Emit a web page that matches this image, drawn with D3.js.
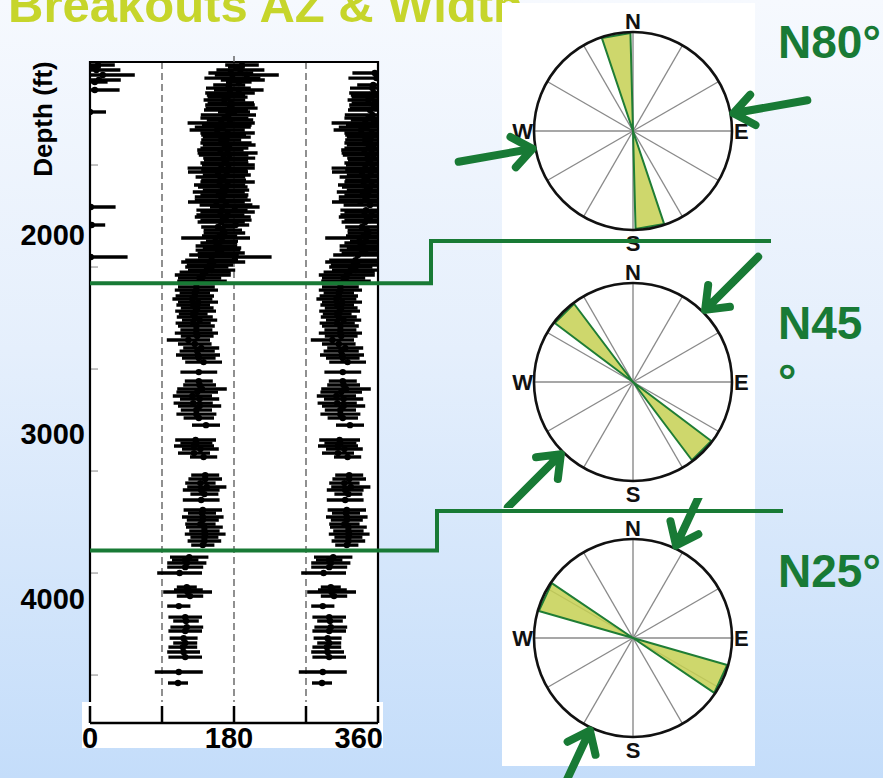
<!DOCTYPE html>
<html>
<head>
<meta charset="utf-8">
<script src="https://cdn.jsdelivr.net/npm/d3@7"></script>
<style>
  html, body { margin: 0; padding: 0; }
  svg { display: block; font-family: "Liberation Sans", Arial, sans-serif; }
</style>
</head>
<body>
<svg id="chart" width="883" height="778"></svg>
<script>
// ---- Breakout picks: depth (ft), azimuth (deg), angular width (deg) ----
// Upper interval (SHmax ~N80°E)
const upperDepth = [1010,1020,1034,1049,1059,1074,1083,1093,1108,1123,1132,1147,1157,1167,1181,1196,1206,1221,1230,1240,
  1255,1270,1279,1294,1304,1314,1328,1343,1353,1363,1377,1392,1402,1417,1426,1441,1451,1466,1475,1490,
  1500,1515,1525,1534,1549,1559,1574,1583,1598,1608,1623,1632,1647,1657,1672,1681,1696,1706,1721,1730,
  1745,1755,1770,1779,1794,1804,1819,1833,1848,1858,1873,1882,1897,1907,1917,1931,1941,1951,1966,1975,
  1990,2000,2015,2025,2039,2054,2069];
const upperAz = [190,183,188,176,196,178,191,186,174,173,186,175,170,172,168,176,175,177,170,180,
  173,168,175,164,171,166,159,172,167,171,164,170,174,168,163,172,167,174,170,168,
  173,164,168,160,171,163,167,172,162,166,170,161,168,164,166,158,170,181,165,172,
  163,166,170,164,182,160,166,168,162,157,165,161,158,165,160,164,155,181,152,154,
  150,146,152,144,141,137,140];
const upperWidth = [42,21,60,56,80,70,55,32,40,56,62,62,48,50,52,58,62,65,55,40,
  69,60,58,84,62,70,69,68,56,60,50,64,66,60,58,75,62,65,55,60,
  66,84,58,75,60,62,56,68,64,62,58,65,60,66,70,71,66,62,64,68,
  60,70,64,59,34,42,48,52,44,86,40,46,52,48,56,59,62,92,66,80,
  58,54,59,64,70,54,62];

// Middle interval (SHmax ~N45°E)
const middleDepth = [2098,2113,2127,2142,2157,2172,2186,2201,2216,2230,2245,2260,2275,2289,2309,2324,2338,2358,2377,2397,
  2412,2431,2446,2466,2515,2559,2578,2598,2613,2632,2647,2667,2681,2701,2721,2740,2775,2848,2863,2877,
  2892,2912,2931,3020,3039,3059,3078,3093,3113,3142,3191,3206,3225,3240,3260,3275,3294,3309,3324,3343,3363];
const middleAz = [133,133,131,131,128,135,129,134,132,129,131,137,129,133,133,133,134,123,131,139,
  134,135,136,142,136,136,137,140,134,128,137,129,137,133,133,136,145,132,133,130,
  138,130,142,144,144,138,146,139,143,139,141,140,141,141,138,143,143,144,143,143,141];
const middleWidth = [46,54,38,48,50,50,42,41,51,36,45,44,44,46,40,54,41,54,42,45,
  44,55,42,46,46,35,41,62,52,49,49,49,54,39,50,38,35,51,40,50,
  46,40,34,35,42,38,49,46,35,46,48,35,52,40,38,46,38,51,35,42,29];

// Lower interval (SHmax ~N25°E)
const lowerDepth = [3422,3436,3451,3471,3500,3569,3583,3593,3613,3662,3716,3735,3765,3784,3819,3843,3863,3887,3912,3985,4039];
const lowerAz = [124,119,121,119,112,121,123,122,125,111,119,120,121,119,117,119,116,117,119,111,110];
const lowerWidth = [48,33,49,45,56,25,36,61,33,29,42,32,41,42,35,30,36,41,42,60,25];

// Depths where the stress regime changes (ft)
const regimeBoundaries = [2080, 3390];

// Axes
const depthTicks = [1500, 2000, 2500, 3000, 3500, 4000];
const depthLabels = [2000, 3000, 4000];
const azTicks = [0, 90, 180, 270, 360];
const azLabels = [0, 180, 360];
const azGrid = [90, 180, 270];

// Stress panels: SHmax azimuth (deg), breakout spread drawn on rose (deg), label lines
const shmaxAz = [80, 45, 25];
const breakoutSpread = [17, 16, 18];
const shmaxLabelLines = [["N80°"], ["N45", "°"], ["N25°"]];
const compassLetters = ["N", "E", "S", "W"];

// ---------------------------------------------------------------
const W = 883, H = 778;
const GREEN = "#187a35";
const svg = d3.select("#chart");
const defs = svg.append("defs");

const bg = defs.append("linearGradient").attr("id", "bg")
  .attr("x1", 0).attr("y1", 0).attr("x2", 0).attr("y2", 1);
[[0, "#f6f9fe"], [0.45, "#e5effc"], [1, "#c4ddfa"]]
  .forEach(([o, c]) => bg.append("stop").attr("offset", o).attr("stop-color", c));
svg.append("rect").attr("width", W).attr("height", H).attr("fill", "url(#bg)");

// Title (runs off the top of the slide)
svg.append("text").attr("x", 8).attr("y", 22)
  .attr("font-size", 49).attr("font-weight", "bold").attr("fill", "#c6d52b")
  .text("Breakouts AZ & Width");

// White backing for the stress-rose column
svg.append("rect").attr("x", 502).attr("y", 3).attr("width", 253).attr("height", 763).attr("fill", "#fff");

// ---- Breakout log ----
const x = d3.scaleLinear().domain([0, 360]).range([90, 378]);
const y = d3.scaleLinear().domain([995, 4235]).range([62, 723]);
const plotTop = 62, plotBottom = 702;

defs.append("clipPath").attr("id", "plotClip").append("rect")
  .attr("x", x(0)).attr("y", plotTop).attr("width", x(360) - x(0)).attr("height", plotBottom - plotTop);

const log = svg.append("g");
log.append("rect").attr("x", x(0)).attr("y", plotTop)
  .attr("width", x(360) - x(0)).attr("height", y(4235) - plotTop).attr("fill", "#fff");

// dashed reference azimuths
log.selectAll("line.grid").data(azGrid).join("line").attr("class", "grid")
  .attr("x1", d => x(d)).attr("x2", d => x(d))
  .attr("y1", plotTop).attr("y2", plotBottom)
  .attr("stroke", "#555").attr("stroke-width", 1.3).attr("stroke-dasharray", "7,4");

// depth ticks (inward)
log.selectAll("line.dtick").data(depthTicks).join("line").attr("class", "dtick")
  .attr("x1", x(0)).attr("x2", x(0) + 8)
  .attr("y1", d => y(d)).attr("y2", d => y(d))
  .attr("stroke", "#999").attr("stroke-width", 1.2);

// breakout marks: each pick appears at its azimuth and the opposite side of the hole
const picks = [];
[[upperDepth, upperAz, upperWidth], [middleDepth, middleAz, middleWidth], [lowerDepth, lowerAz, lowerWidth]]
  .forEach(([ds, as, ws]) => ds.forEach((d, i) => picks.push({ depth: d, az: as[i], width: ws[i] })));
const marks = picks.flatMap(p => [p.az, (p.az + 180) % 360].map(c => ({ depth: p.depth, c, w: p.width })));

const marksG = log.append("g").attr("clip-path", "url(#plotClip)");
marksG.selectAll("line").data(marks).join("line")
  .attr("x1", d => x(d.c - d.w / 2)).attr("x2", d => x(d.c + d.w / 2))
  .attr("y1", d => y(d.depth)).attr("y2", d => y(d.depth))
  .attr("stroke", "#000").attr("stroke-width", 3.4);
marksG.selectAll("circle").data(marks).join("circle")
  .attr("cx", d => x(d.c)).attr("cy", d => y(d.depth)).attr("r", 3.2).attr("fill", "#000");

// frame
log.append("path")
  .attr("d", `M${x(0)},${plotBottom}V${plotTop}H${x(360)}V${plotBottom}`)
  .attr("fill", "none").attr("stroke", "#000").attr("stroke-width", 2.2);
// top tick
log.append("line").attr("x1", x(180)).attr("x2", x(180)).attr("y1", plotTop - 6).attr("y2", plotTop)
  .attr("stroke", "#666").attr("stroke-width", 1.5);

// azimuth axis panel
const axisY = y(4235);
svg.append("rect").attr("x", 82).attr("y", plotBottom).attr("width", 301).attr("height", 46).attr("fill", "#fff");
svg.append("line").attr("x1", x(0)).attr("x2", x(360)).attr("y1", axisY).attr("y2", axisY)
  .attr("stroke", "#000").attr("stroke-width", 2.5);
svg.selectAll("line.atick").data(azTicks).join("line").attr("class", "atick")
  .attr("x1", d => x(d)).attr("x2", d => x(d)).attr("y1", axisY - 17).attr("y2", axisY)
  .attr("stroke", "#000").attr("stroke-width", 2.5);
const anchorFor = (d, i, n) => i === 0 ? "start" : (i === n - 1 ? "end" : "middle");
const dxFor = (d, i, n) => i === 0 ? -8 : (i === n - 1 ? 5 : -5);
svg.selectAll("text.alabel").data(azLabels).join("text").attr("class", "alabel")
  .attr("x", (d, i) => x(d) + dxFor(d, i, azLabels.length)).attr("y", 748)
  .attr("text-anchor", (d, i) => anchorFor(d, i, azLabels.length))
  .attr("font-size", 29).attr("font-weight", "bold").attr("fill", "#000")
  .text(d => d);

// depth labels (placed on the slide's own label rail)
const depthLabelY = d3.scaleLinear().domain([2000, 3000, 4000]).range([245, 444, 609]);
svg.selectAll("text.dlabel").data(depthLabels).join("text").attr("class", "dlabel")
  .attr("x", 85).attr("y", d => depthLabelY(d)).attr("text-anchor", "end")
  .attr("font-size", 29).attr("font-weight", "bold").attr("fill", "#000")
  .text(d => d);

svg.append("text").attr("transform", "translate(52,119) rotate(-90)")
  .attr("text-anchor", "middle").attr("font-size", 26).attr("font-weight", "bold").attr("fill", "#000")
  .text("Depth (ft)");

// ---- Stress roses ----
const rose = { cx: 633, r: 99, cy: [131, 382, 638] };
const bands = [[0, 250], [250, 508], [498, 778]];
const rad = a => a * Math.PI / 180;
const polar = (cx, cy, a, d) => [cx + d * Math.sin(rad(a)), cy - d * Math.cos(rad(a))];

shmaxAz.forEach((sh, i) => {
  const cx = rose.cx, cy = rose.cy[i], r = rose.r;
  const g = svg.append("g");
  g.append("circle").attr("cx", cx).attr("cy", cy).attr("r", r).attr("fill", "#fff");

  const spokes = d3.range(0, 180, 30);
  g.selectAll("line.spoke").data(spokes).join("line").attr("class", "spoke")
    .attr("x1", a => polar(cx, cy, a, r)[0]).attr("y1", a => polar(cx, cy, a, r)[1])
    .attr("x2", a => polar(cx, cy, a + 180, r)[0]).attr("y2", a => polar(cx, cy, a + 180, r)[1])
    .attr("stroke", "#8a8a8a").attr("stroke-width", 1.4);

  // breakout direction is perpendicular to SHmax
  const bo = sh + 90, half = breakoutSpread[i] / 2;
  [bo, bo + 180].forEach(b => {
    const p1 = polar(cx, cy, b - half, r - 1), p2 = polar(cx, cy, b + half, r - 1);
    g.append("path").attr("d", `M${cx},${cy}L${p1}L${p2}Z`)
      .attr("fill", "#c5d052").attr("fill-opacity", 0.85)
      .attr("stroke", "#1f7d35").attr("stroke-width", 2).attr("stroke-linejoin", "round");
  });

  g.append("circle").attr("cx", cx).attr("cy", cy).attr("r", r)
    .attr("fill", "none").attr("stroke", "#111").attr("stroke-width", 2.6);

  const letterPos = {
    N: [cx, cy - r - 3, "middle"], S: [cx, cy + r + 21, "middle"],
    E: [cx + r + 2, cy + 8, "start"], W: [cx - r - 1, cy + 8, "end"]
  };
  g.selectAll("text.dir").data(compassLetters).join("text").attr("class", "dir")
    .attr("x", d => letterPos[d][0]).attr("y", d => letterPos[d][1])
    .attr("text-anchor", d => letterPos[d][2])
    .attr("font-size", 22).attr("font-weight", "bold").attr("fill", "#111")
    .text(d => d);

  // SHmax arrows pushing on the hole
  defs.append("clipPath").attr("id", "band" + i).append("rect")
    .attr("x", 0).attr("y", bands[i][0]).attr("width", W).attr("height", bands[i][1] - bands[i][0]);
  const ag = svg.append("g").attr("clip-path", `url(#band${i})`);
  [sh, sh + 180].forEach(a => {
    const tip = polar(cx, cy, a, r + 3), tail = polar(cx, cy, a, r + 78);
    const arm1 = polar(tip[0], tip[1], a - 38, 25), arm2 = polar(tip[0], tip[1], a + 38, 25);
    ag.append("path").attr("d", `M${tail}L${tip}M${arm1}L${tip}L${arm2}`)
      .attr("fill", "none").attr("stroke", GREEN).attr("stroke-width", 8)
      .attr("stroke-linecap", "round").attr("stroke-linejoin", "round");
  });
});

// SHmax labels
const labelBase = [58, 339, 587];
shmaxLabelLines.forEach((lines, i) => {
  const t = svg.append("text").attr("x", 778).attr("y", labelBase[i])
    .attr("font-size", 46).attr("font-weight", "bold").attr("fill", GREEN);
  lines.forEach((s, j) => t.append("tspan").attr("x", 778).attr("dy", j === 0 ? 0 : 58).text(s));
});

// regime boundaries stepping up to the rose dividers
const stepX = [431, 437], stepTop = [241, 511], stepEnd = [771, 783];
regimeBoundaries.forEach((b, i) => {
  svg.append("path")
    .attr("d", `M${x(0)},${y(b)}H${stepX[i]}V${stepTop[i]}H${stepEnd[i]}`)
    .attr("fill", "none").attr("stroke", GREEN).attr("stroke-width", 4);
});
</script>
</body>
</html>
